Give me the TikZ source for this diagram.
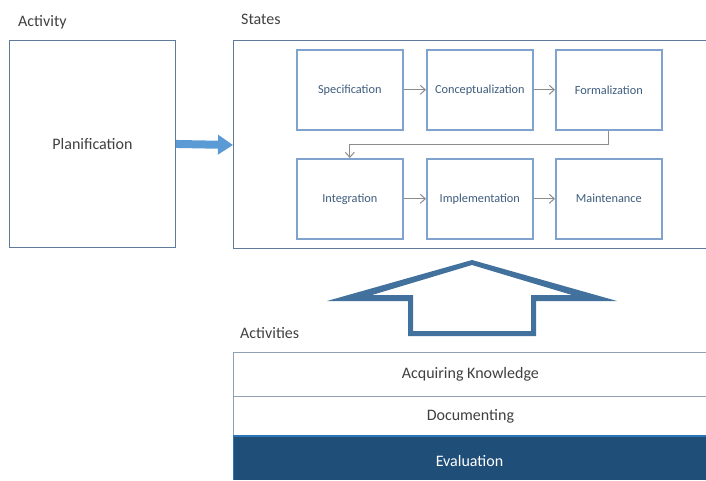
\documentclass[tikz,border=0pt]{standalone}
\usepackage{fontspec}
\setmainfont{Carlito}
\usetikzlibrary{arrows.meta}
\definecolor{txt}{HTML}{404040}
\definecolor{boxtxt}{HTML}{3E5C7E}
\definecolor{outer}{HTML}{5E7C99}
\definecolor{inner}{HTML}{7FA3CC}
\definecolor{garrow}{HTML}{8C8C8C}
\definecolor{bigarrow}{HTML}{41719C}
\definecolor{barblue}{HTML}{5B9BD5}
\definecolor{evalfill}{HTML}{1F4E79}
\definecolor{evalline}{HTML}{2E75B6}
\definecolor{band}{HTML}{8EA0B2}
\begin{document}
\begin{tikzpicture}[x=1pt,y=-1pt,
  lbl/.style={text=txt,font=\fontsize{16}{18}\selectfont,anchor=west,inner sep=0},
  outerbox/.style={draw=outer,line width=0.9pt,fill=white},
  stbox/.style={draw=inner,line width=1.6pt,fill=white,text=boxtxt,font=\fontsize{12.3}{14}\selectfont,minimum width=106pt,minimum height=80pt,inner sep=0},
  conn/.style={draw=garrow,line width=1pt,-{Straight Barb[length=5pt,width=9pt]}},
  bandbox/.style={draw=band,line width=0.8pt,fill=white,text=txt,font=\fontsize{16}{18}\selectfont,inner sep=0}]
\useasboundingbox (0,0) rectangle (706,480);
% labels
\node[lbl] (lact) at (18,22) {Activity};
\node[lbl] (lst) at (241,19) {States};
\node[lbl] (lacts) at (240,333) {Activities};
% left box
\node[outerbox,minimum width=166pt,minimum height=207pt,inner sep=0,anchor=north west,text=txt,font=\fontsize{16}{18}\selectfont] (plan) at (9,40) {Planification};
% states box
\draw[outerbox] (233,40) -- (706,40) (233,40) -- (233,248) -- (706,248);
\coordinate (stl) at (233,145);
% blue arrow
\draw[barblue,line width=8pt,-{Triangle[length=15pt,width=19pt]}] (plan.east) -- (stl);
% inner boxes
\node[stbox,anchor=north west] (spec) at (296,49) {Specification};
\node[stbox,anchor=north west] (conc) at (426,49) {Conceptualization};
\node[stbox,anchor=north west] (form) at (555,49) {Formalization};
\node[stbox,anchor=north west] (integ) at (296,158) {Integration};
\node[stbox,anchor=north west] (impl) at (426,158) {Implementation};
\node[stbox,anchor=north west] (maint) at (555,158) {Maintenance};
\draw[conn] (spec) -- (conc);
\draw[conn] (conc) -- (form);
\draw[conn] (integ) -- (impl);
\draw[conn] (impl) -- (maint);
\draw[conn] (form.south) -- ++(0,14) -| (integ.north);
% big hollow arrow
\fill[bigarrow,even odd rule]
  (472,260) -- (617,301) -- (536,301) -- (536,336) -- (408,336) -- (408,301) -- (327,301) -- cycle
  (472,265) -- (572,295) -- (531,295) -- (531,331) -- (413,331) -- (413,295) -- (372,295) -- cycle;
% bands
\node[bandbox,minimum width=474pt,minimum height=44pt,anchor=north west] (acq) at (233,352) {Acquiring Knowledge};
\node[bandbox,minimum width=474pt,minimum height=39pt,anchor=north west] (doc) at (233,396) {Documenting};
\fill[evalfill] (233,435) rectangle (706,480);
\draw[evalline,line width=1.5pt] (706,436) -- (233.5,436) -- (233.5,480);
\node[text=white,font=\fontsize{16}{18}\selectfont] (ev) at (469.5,461) {Evaluation};
\end{tikzpicture}
\end{document}
